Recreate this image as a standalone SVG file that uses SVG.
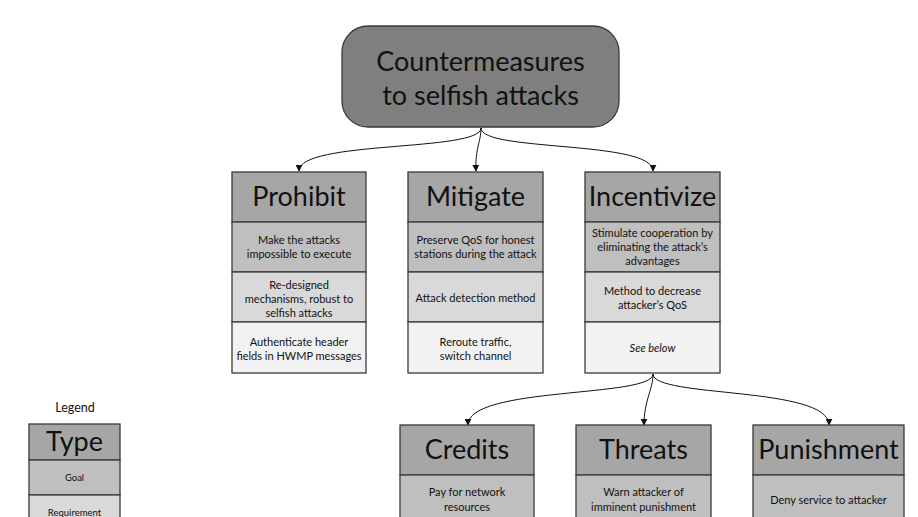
<svg xmlns="http://www.w3.org/2000/svg" width="918" height="517" viewBox="0 0 918 517">
<defs>
<style>
.box{stroke:#3a3a3a;stroke-width:1.3}
.h{fill:#a6a6a6}
.r1{fill:#bfbfbf}
.r2{fill:#d9d9d9}
.r3{fill:#f2f2f2}
text{font-family:Lato,"Open Sans",sans-serif;fill:#111;text-anchor:middle}
.ht{font-size:27px}
.t{font-size:11px}
.conn{fill:none;stroke:#111;stroke-width:1}
</style>
<marker id="ah" viewBox="0 0 10 10" refX="9" refY="5" markerWidth="7" markerHeight="7" orient="auto" markerUnits="userSpaceOnUse">
<path d="M0,0 L10,5 L0,10 z" fill="#111"/>
</marker>
</defs>
<rect width="918" height="517" fill="#fff"/>

<g id="connectors">
<path class="conn" marker-end="url(#ah)" d="M481,128 C481,152 299,140 299,171"/>
<path class="conn" marker-end="url(#ah)" d="M481,128 C481,142 475,148 476,171"/>
<path class="conn" marker-end="url(#ah)" d="M481,128 C481,152 653,140 653,171"/>
<path class="conn" marker-end="url(#ah)" d="M653,374 C653,398 468,386 468,425"/>
<path class="conn" marker-end="url(#ah)" d="M653,374 C653,390 644,400 644,425"/>
<path class="conn" marker-end="url(#ah)" d="M653,374 C653,398 829,386 829,425"/>
</g>

<g id="root">
<rect class="box" x="342" y="26" width="277" height="101" rx="26" ry="26" fill="#7f7f7f"/>
<text x="480.5" y="71" style="font-size:27px">Countermeasures</text>
<text x="480.5" y="105" style="font-size:27px">to selfish attacks</text>
</g>

<g id="prohibit">
<rect class="box h" x="232" y="172" width="134" height="50"/>
<rect class="box r1" x="232" y="222" width="134" height="50"/>
<rect class="box r2" x="232" y="272" width="134" height="50"/>
<rect class="box r3" x="232" y="322" width="134" height="51"/>
<text class="ht" x="299" y="206">Prohibit</text>
<text class="t" x="299" y="244">Make the attacks</text>
<text class="t" x="299" y="258">impossible to execute</text>
<text class="t" x="299" y="289">Re-designed</text>
<text class="t" x="299" y="303">mechanisms, robust to</text>
<text class="t" x="299" y="317">selfish attacks</text>
<text class="t" x="299" y="346">Authenticate header</text>
<text class="t" x="299" y="360">fields in HWMP messages</text>
</g>

<g id="mitigate">
<rect class="box h" x="408" y="172" width="135" height="50"/>
<rect class="box r1" x="408" y="222" width="135" height="50"/>
<rect class="box r2" x="408" y="272" width="135" height="50"/>
<rect class="box r3" x="408" y="322" width="135" height="51"/>
<text class="ht" x="475.5" y="206">Mitigate</text>
<text class="t" x="475.5" y="244">Preserve QoS for honest</text>
<text class="t" x="475.5" y="258">stations during the attack</text>
<text class="t" x="475.5" y="302">Attack detection method</text>
<text class="t" x="475.5" y="346">Reroute traffic,</text>
<text class="t" x="475.5" y="360">switch channel</text>
</g>

<g id="incentivize">
<rect class="box h" x="585" y="172" width="135" height="50"/>
<rect class="box r1" x="585" y="222" width="135" height="50"/>
<rect class="box r2" x="585" y="272" width="135" height="50"/>
<rect class="box r3" x="585" y="322" width="135" height="51"/>
<text class="ht" x="652.5" y="206">Incentivize</text>
<text class="t" x="652.5" y="237">Stimulate cooperation by</text>
<text class="t" x="652.5" y="251">eliminating the attack’s</text>
<text class="t" x="652.5" y="265">advantages</text>
<text class="t" x="652.5" y="295">Method to decrease</text>
<text class="t" x="652.5" y="309">attacker’s QoS</text>
<text class="t" x="652.5" y="352" font-style="italic">See below</text>
</g>

<g id="credits">
<rect class="box h" x="400" y="425" width="134" height="50"/>
<rect class="box r1" x="400" y="475" width="134" height="50"/>
<text class="ht" x="467" y="459">Credits</text>
<text class="t" x="467" y="496">Pay for network</text>
<text class="t" x="467" y="511">resources</text>
</g>

<g id="threats">
<rect class="box h" x="576" y="425" width="135" height="50"/>
<rect class="box r1" x="576" y="475" width="135" height="50"/>
<text class="ht" x="643.5" y="459">Threats</text>
<text class="t" x="643.5" y="496">Warn attacker of</text>
<text class="t" x="643.5" y="511">imminent punishment</text>
</g>

<g id="punishment">
<rect class="box h" x="753" y="425" width="151" height="50"/>
<rect class="box r1" x="753" y="475" width="151" height="50"/>
<text class="ht" x="828.5" y="459">Punishment</text>
<text class="t" x="828.5" y="504">Deny service to attacker</text>
</g>

<g id="legend">
<text x="75" y="412" style="font-size:12.5px">Legend</text>
<rect class="box h" x="29" y="424" width="91" height="36"/>
<rect class="box r1" x="29" y="460" width="91" height="35"/>
<rect class="box r2" x="29" y="495" width="91" height="35"/>
<text x="74.5" y="451" style="font-size:27px">Type</text>
<text x="74.5" y="481" style="font-size:9.5px">Goal</text>
<text x="74.5" y="516" style="font-size:9.5px">Requirement</text>
</g>
</svg>
